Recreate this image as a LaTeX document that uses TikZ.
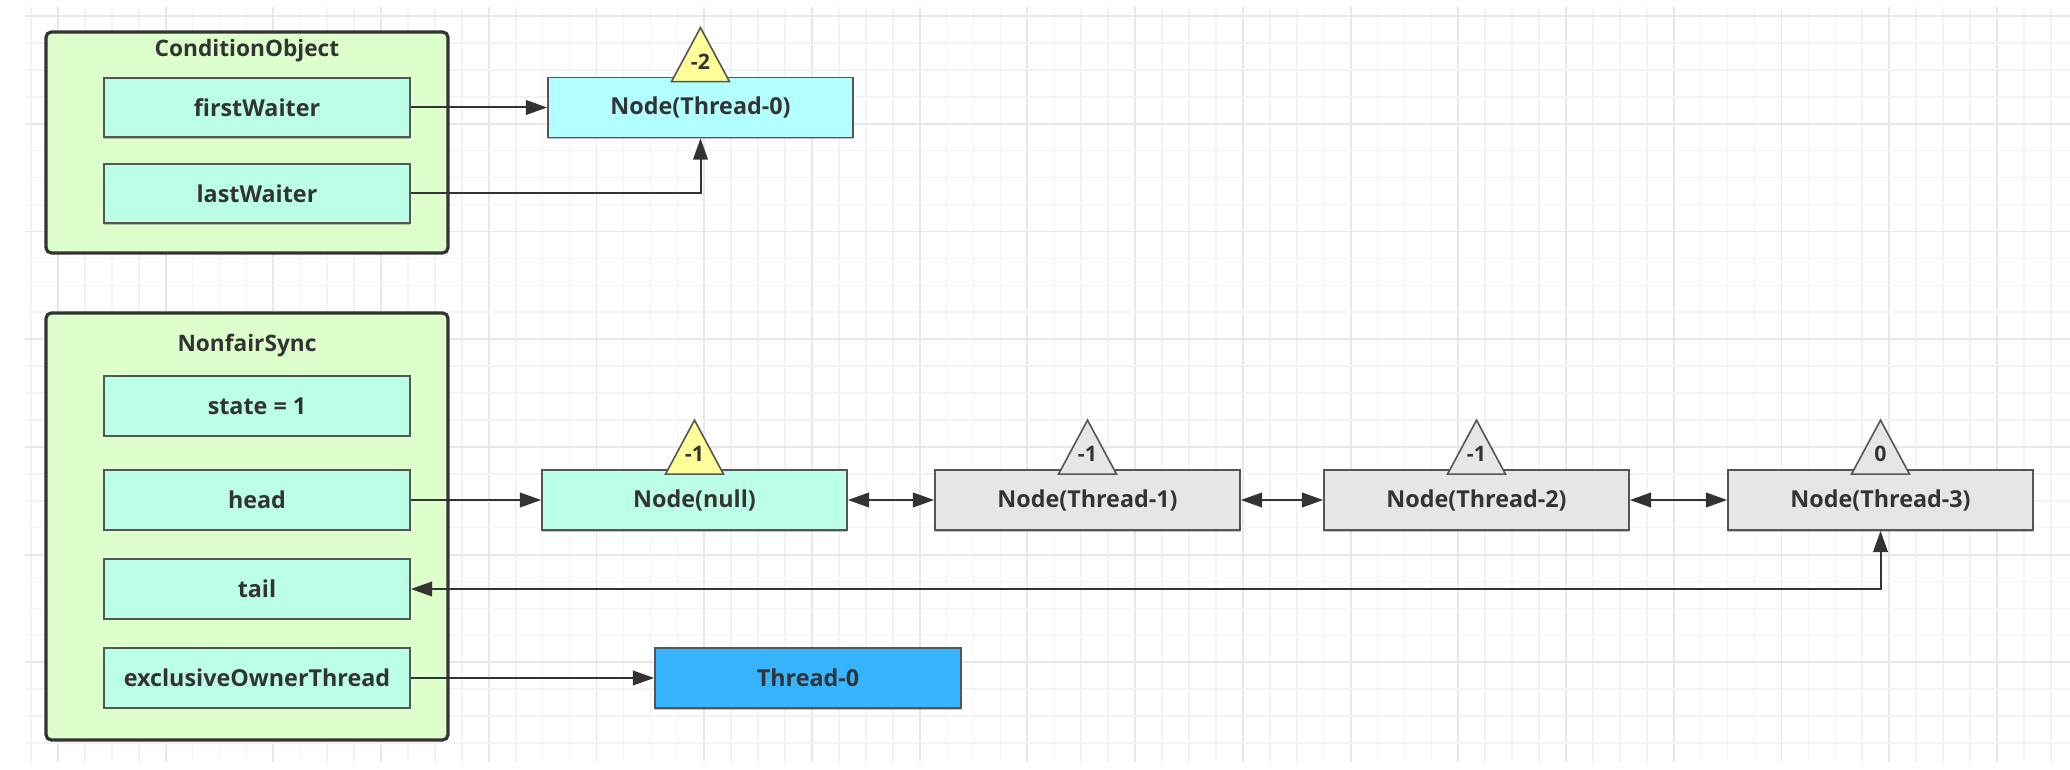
\documentclass[tikz,border=0pt]{standalone}
\usepackage{fontspec}
\setmainfont{Open Sans}
\usetikzlibrary{arrows.meta,shadows,calc}
\definecolor{gridminor}{HTML}{F3F3F3}
\definecolor{gridmajor}{HTML}{E8E8E8}
\definecolor{contfill}{HTML}{DDFFCC}
\definecolor{mint}{HTML}{BBFFE6}
\definecolor{cyanfill}{HTML}{B3FFFF}
\definecolor{greyfill}{HTML}{E6E6E6}
\definecolor{bluefill}{HTML}{36B4FF}
\definecolor{triyellow}{HTML}{FFFF99}
\definecolor{txt}{HTML}{333333}
\definecolor{edge}{HTML}{555555}
\definecolor{darkedge}{HTML}{333333}
\begin{document}
\begin{tikzpicture}[x=0.75pt,y=-0.75pt,
  container/.style={draw=darkedge, line width=2.4pt, rounded corners=4pt, fill=contfill, inner sep=0pt},
  title/.style={text=txt, font=\bfseries\fontsize{17}{19}\selectfont, inner sep=0pt},
  box/.style={draw=edge, line width=1.3pt, inner sep=0pt, text=txt,
    font=\bfseries\fontsize{17.5}{19}\selectfont,
    drop shadow={shadow xshift=0pt, shadow yshift=-1.2pt, opacity=0.35, fill=black!70}},
  field/.style={box, fill=mint, minimum width=229.5pt, minimum height=44.5pt},
  qnode/.style={box, minimum width=228.75pt, minimum height=45pt},
  tri/.style={draw=edge, line width=1.2pt, line join=miter},
  trilabel/.style={text=txt, font=\bfseries\fontsize{16}{18}\selectfont, inner sep=0pt},
  conn/.style={draw=darkedge, line width=1.5pt, -{Triangle[length=16pt,width=11pt]}},
  dconn/.style={draw=darkedge, line width=1.5pt, {Triangle[length=16pt,width=11pt]}-{Triangle[length=16pt,width=11pt]}}
]
\useasboundingbox (0,0) rectangle (2070,770);
\fill[white] (0,0) rectangle (2070,770);
% grid
\foreach \i in {0,...,75}{
  \pgfmathtruncatemacro{\m}{mod(\i,4)}
  \ifnum\m=1
    \draw[gridmajor, line width=1.4pt] ({31+26.93*\i},7) -- ({31+26.93*\i},762);
  \else
    \draw[gridminor, line width=1.2pt] ({31+26.93*\i},7) -- ({31+26.93*\i},762);
  \fi
}
\foreach \j in {0,...,27}{
  \pgfmathtruncatemacro{\m}{mod(\j,4)}
  \ifnum\m=0
    \draw[gridmajor, line width=1.4pt] (25,{16+26.93*\j}) -- (2070,{16+26.93*\j});
  \else
    \draw[gridminor, line width=1.2pt] (25,{16+26.93*\j}) -- (2070,{16+26.93*\j});
  \fi
}
% containers
\node[container, minimum width=301.5pt, minimum height=165.75pt] (cond) at (247,142.5) {};
\node[title] (condtitle) at (247,51) {ConditionObject};
\node[container, minimum width=301.5pt, minimum height=320.25pt] (sync) at (247,526.5) {};
\node[title] (synctitle) at (247,346) {NonfairSync};
% fields
\node[field] (firstW) at (257,107.5) {firstWaiter};
\node[field] (lastW) at (257,193.5) {lastWaiter};
\node[field] (state) at (257,406) {state = 1};
\node[field] (head) at (257,500) {head};
\node[field] (tail) at (257,589) {tail};
\node[field] (excl) at (257,678) {exclusiveOwnerThread};
% queue nodes
\node[qnode, fill=cyanfill] (nT0) at (700.5,107.5) {Node(Thread-0)};
\node[qnode, fill=mint] (nnull) at (694.5,500) {Node(null)};
\node[qnode, fill=greyfill] (t1) at (1087.5,500) {Node(Thread-1)};
\node[qnode, fill=greyfill] (t2) at (1476.5,500) {Node(Thread-2)};
\node[qnode, fill=greyfill] (t3) at (1880.5,500) {Node(Thread-3)};
\node[qnode, fill=bluefill, minimum width=229.5pt] (th0) at (808,678) {Thread-0};
% status triangles
\foreach \n/\c/\v in {nT0/triyellow/-2, nnull/triyellow/-1, t1/greyfill/-1, t2/greyfill/-1, t3/greyfill/0}{
  \draw[tri, fill=\c] ($(\n.north)+(-29,5)$) -- ($(\n.north)+(0,-49)$) -- ($(\n.north)+(29,5)$) -- cycle;
  \node[trilabel] (lab\n) at ($(\n.north)+(0,-15)$) {\v};
}
% connectors
\draw[conn] (firstW.east) -- (nT0.west);
\draw[conn] (lastW.east) -| (nT0.south);
\draw[conn] (head.east) -- (nnull.west);
\draw[dconn] (nnull.east) -- (t1.west);
\draw[dconn] (t1.east) -- (t2.west);
\draw[dconn] (t2.east) -- (t3.west);
\draw[dconn] (tail.east) -| (t3.south);
\draw[conn] (excl.east) -- (th0.west);
\end{tikzpicture}
\end{document}
